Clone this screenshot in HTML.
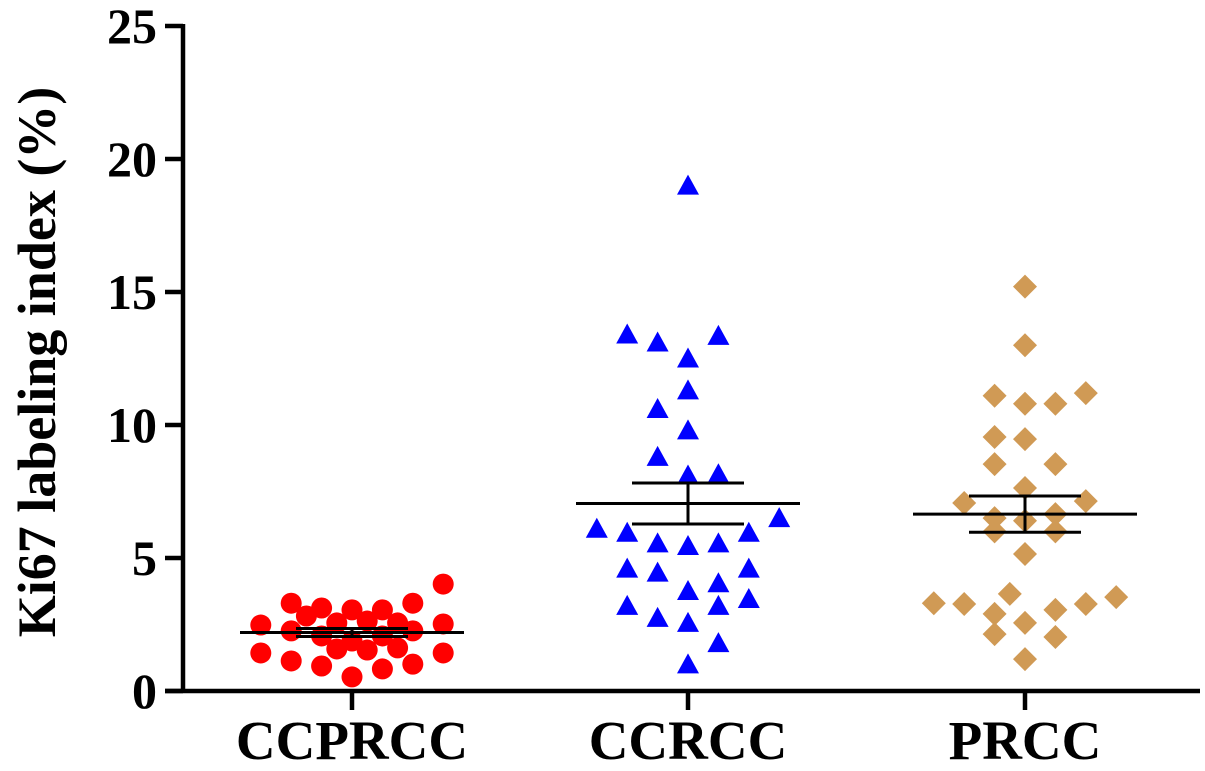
<!DOCTYPE html>
<html><head><meta charset="utf-8"><style>
html,body{margin:0;padding:0;background:#fff;}
svg{display:block;}
text{font-family:"Liberation Serif","Times New Roman",serif;font-weight:bold;}
</style></head><body>
<svg id="chart" width="1205" height="771" viewBox="0 0 1205 771" xmlns="http://www.w3.org/2000/svg"></svg>
<script>
const categories = ["CCPRCC","CCRCC","PRCC"];
const yTicks = [0,5,10,15,20,25];
const ccprccVals = [2.48,1.43,3.3,2.26,1.13,2.82,3.12,2.07,0.94,2.56,1.58,3.05,1.88,0.53,2.63,1.54,3.05,2.07,0.83,2.56,1.62,3.3,2.26,1.01,4.02,2.52,1.43];
const ccprccCols = [-6,-6,-4,-4,-4,-3,-2,-2,-2,-1,-1,0,0,0,1,1,2,2,2,3,3,4,4,4,6,6,6];
const ccrccVals = [19.0,13.4,13.1,13.35,12.5,11.3,10.6,9.8,8.8,8.1,8.15,6.5,6.1,5.95,5.95,5.55,5.45,5.55,4.6,4.45,4.6,3.76,4.05,3.2,2.75,2.56,3.2,3.46,1.8,1.0];
const ccrccCols = [0,-4,-2,2,0,0,-2,0,-2,0,2,6,-6,-4,4,-2,0,2,-4,-2,4,0,2,-4,-2,0,2,4,2,0];
const prccVals = [15.2,13.0,11.1,10.8,10.8,11.2,9.55,9.47,8.53,8.53,7.63,7.07,7.14,6.5,6.65,6.4,6.0,6.0,5.15,3.3,3.27,3.65,3.53,3.27,2.9,3.05,2.56,2.14,2.03,1.2];
const prccCols = [0,0,-2,0,2,4,-2,0,-2,2,0,-4,4,-2,2,0,-2,2,0,-6,-4,-1,6,4,-2,2,0,-2,2,0];
const means = [2.2,7.05,6.65];
const sems = [0.15,0.77,0.68];

const NS="http://www.w3.org/2000/svg";
const svg=document.getElementById('chart');
const y0=691, pxPerUnit=26.6, axisX=183;
const yScale=v=>y0-v*pxPerUnit;
const catX=[352,688,1025];
const xScale=(i,col)=>catX[i]+col*15.2;
function mk(tag,attrs){const e=document.createElementNS(NS,tag);for(const k in attrs)e.setAttribute(k,attrs[k]);svg.appendChild(e);return e;}

let e=mk('line',{x1:axisX,y1:yScale(25)-2,x2:axisX,y2:y0+2,stroke:'#000','stroke-width':4.5});


e=mk('line',{x1:165,y1:y0,x2:1200,y2:y0,stroke:'#000','stroke-width':4.5});


yTicks.forEach(t=>{
  const y=yScale(t);
  let l=mk('line',{x1:165,y1:y,x2:axisX,y2:y,stroke:'#000','stroke-width':4.5});
  
  
  let tx=mk('text',{x:157,y:y+17,'text-anchor':'end','font-size':50});
  tx.textContent=t;
  
  
});
categories.forEach((c,i)=>{
  let l=mk('line',{x1:catX[i],y1:y0,x2:catX[i],y2:710,stroke:'#000','stroke-width':4.5});
  
  
  let tx=mk('text',{x:catX[i],y:759,'text-anchor':'middle','font-size':55});
  tx.textContent=c;
  
  
});
e=mk('text',{x:0,y:0,'text-anchor':'middle','font-size':54,transform:'translate(55,362) rotate(-90)'});
e.textContent='Ki67 labeling index (%)';



ccprccVals.forEach((v,k)=>{
  const c=mk('circle',{cx:xScale(0,ccprccCols[k]),cy:yScale(v),r:10.5,fill:'#ff0000'});
  
  
});
ccrccVals.forEach((v,k)=>{
  const x=xScale(1,ccrccCols[k]),y=yScale(v);
  const p=mk('polygon',{points:`${x},${y-11} ${x-11},${y+9} ${x+11},${y+9}`,fill:'#0000ff'});
  
  
});
prccVals.forEach((v,k)=>{
  const x=xScale(2,prccCols[k]),y=yScale(v);
  const p=mk('polygon',{points:`${x},${y-12} ${x+12},${y} ${x},${y+12} ${x-12},${y}`,fill:'#d09a55'});
  
  
});

means.forEach((m,i)=>{
  const x=catX[i];
  let l=mk('line',{x1:x-112,y1:yScale(m),x2:x+112,y2:yScale(m),stroke:'#000','stroke-width':3});
  
  
  const hi=yScale(m+sems[i]),lo=yScale(m-sems[i]);
  l=mk('line',{x1:x,y1:hi,x2:x,y2:lo,stroke:'#000','stroke-width':3});
  
  
  [hi,lo].forEach(yy=>{
    const c=mk('line',{x1:x-56,y1:yy,x2:x+56,y2:yy,stroke:'#000','stroke-width':3});
    
    
  });
});
</script>
</body></html>
